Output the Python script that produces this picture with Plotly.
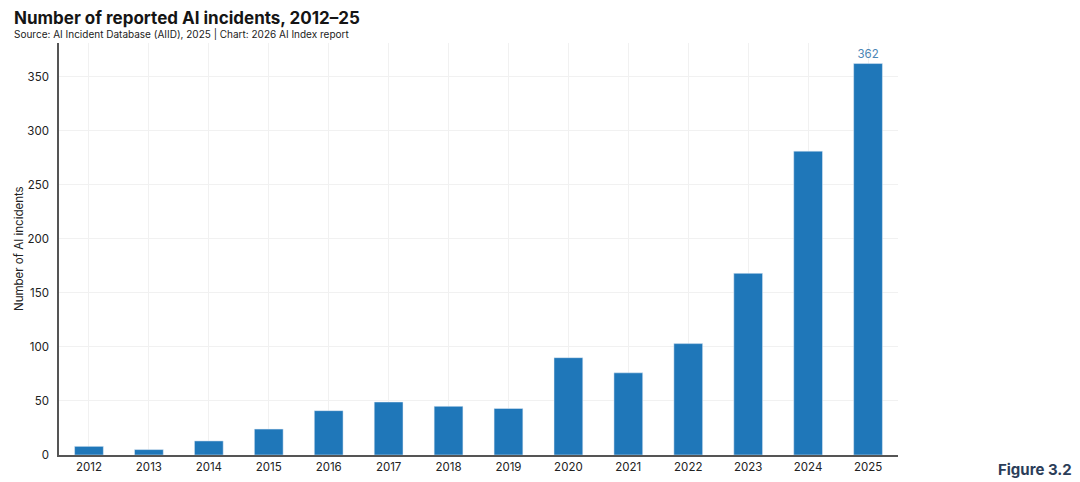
import plotly.graph_objects as go

# Data
years = ['2012', '2013', '2014', '2015', '2016', '2017', '2018',
         '2019', '2020', '2021', '2022', '2023', '2024', '2025']
incidents = [8, 5, 13, 24, 41, 49, 45, 43, 90, 76, 103, 168, 281, 362]

# only the latest year gets a value label
labels = [''] * (len(incidents) - 1) + [str(incidents[-1])]

# the page puts the figure 8px in from the top-left corner (body margin),
# so all pixel positions below are page pixels minus that offset
OFF = 8
W, H = 1080 - OFF, 482 - OFF
L, T = 59 - OFF, 43 - OFF
R = W - (898 - OFF)
B = H - (455 - OFF)
plot_w = W - L - R
plot_h = H - T - B


def px_to_paper(x, y):
    # page pixel position -> paper coords
    return (x - OFF - L) / plot_w, (H - B - (y - OFF)) / plot_h


fig = go.Figure(go.Bar(
    x=years,
    y=incidents,
    marker_color='#1f77b9',
    text=labels,
    textposition='outside',
    textfont=dict(size=11.5, color='#4a86b5'),
    cliponaxis=False,
    hoverinfo='x+y',
))

anns = [
    ('<b>Number of reported AI incidents, 2012–25</b>', 12, 18, 17, '#151515', 0),
    ('Source: AI Incident Database (AIID), 2025 | Chart: 2026 AI Index report', 12, 34, 10, '#222222', 0),
    ('<b>Figure 3.2</b>', 996, 469, 15, '#2b3d59', 0),
    ('Number of AI incidents', 19, 249, 11.5, '#222222', -90),
]
annotations = []
for text, x, y, size, color, angle in anns:
    ax, ay = px_to_paper(x, y)
    annotations.append(dict(
        text=text, x=ax, y=ay, xref='paper', yref='paper', showarrow=False,
        xanchor='center' if angle else 'left', yanchor='middle',
        textangle=angle, font=dict(size=size, color=color),
    ))

fig.update_layout(
    width=W, height=H,
    margin=dict(l=L, r=R, t=T, b=B),
    paper_bgcolor='white',
    plot_bgcolor='white',
    font=dict(family='Inter, Roboto, sans-serif', color='#222222', size=11.5),
    bargap=0.52,
    showlegend=False,
    annotations=annotations,
)

fig.update_xaxes(
    type='category',
    automargin=False,
    showline=True, linecolor='#555555', linewidth=1.5,
    showgrid=True, gridcolor='#f1f1f1',
    ticks='', tickfont=dict(size=11.5, color='#222222'),
)
fig.update_yaxes(
    range=[0, 381],
    dtick=50,
    automargin=False,
    showline=True, linecolor='#555555', linewidth=1.5,
    showgrid=True, gridcolor='#f1f1f1',
    zeroline=False,
    ticks='', ticklabelstandoff=6,
    tickfont=dict(size=11.5, color='#222222'),
)

fig.write_html('out.html')
